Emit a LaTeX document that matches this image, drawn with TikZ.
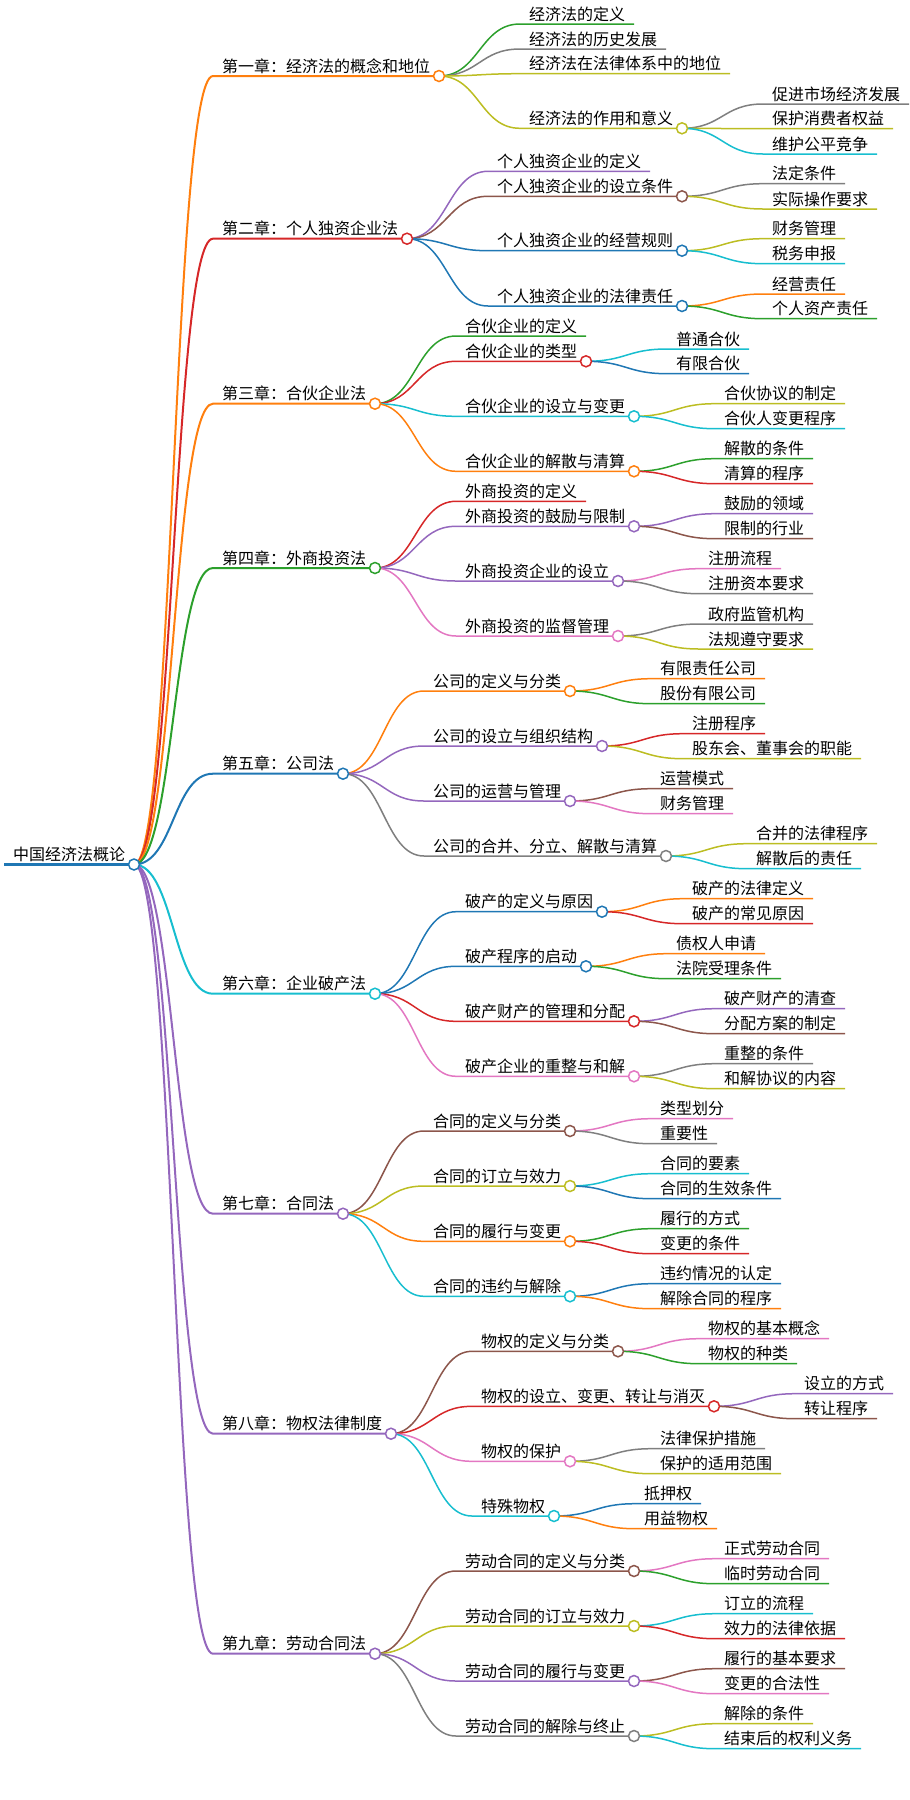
\documentclass[tikz,border=0pt]{standalone}
\usepackage{fontspec}
\setmainfont{Noto Sans CJK SC}
\usepackage{tikz}

\definecolor{mmblue}{HTML}{1F77B4}
\definecolor{mmorange}{HTML}{FF7F0E}
\definecolor{mmgreen}{HTML}{2CA02C}
\definecolor{mmred}{HTML}{D62728}
\definecolor{mmpurple}{HTML}{9467BD}
\definecolor{mmbrown}{HTML}{8C564B}
\definecolor{mmpink}{HTML}{E377C2}
\definecolor{mmgray}{HTML}{7F7F7F}
\definecolor{mmolive}{HTML}{BCBD22}
\definecolor{mmcyan}{HTML}{17BECF}

\begin{document}
\begin{tikzpicture}[x=1pt, y=-1pt,
    topic/.style={anchor=south west, inner xsep=9pt, inner ysep=4pt, outer sep=0pt,
      text height=13pt, text depth=0pt, font=\fontsize{16}{19}\selectfont},
    knot/.style={circle, fill=white, line width=1.5pt, minimum size=11pt, inner sep=0pt},
    chap/.style={line width=2pt},
    sub/.style={line width=1.5pt}]
      \useasboundingbox (0,0) rectangle (910,1800);
      % Root:
      \node[topic] (root) at (4, 864.5) {中国经济法概论};
      \draw[mmblue, line width=3.5pt] (root.south west) -- (root.south east);
      % Chapters:
      \node[topic] (ch1) at (213, 76) {第一章：经济法的概念和地位};
      \node[topic] (ch2) at (213, 238.7) {第二章：个人独资企业法};
      \node[topic] (ch3) at (213, 403.7) {第三章：合伙企业法};
      \node[topic] (ch4) at (213, 568) {第四章：外商投资法};
      \node[topic] (ch5) at (213, 773.7) {第五章：公司法};
      \node[topic] (ch6) at (213, 993.7) {第六章：企业破产法};
      \node[topic] (ch7) at (213, 1213.7) {第七章：合同法};
      \node[topic] (ch8) at (213, 1433.7) {第八章：物权法律制度};
      \node[topic] (ch9) at (213, 1653.7) {第九章：劳动合同法};
      \draw[mmorange, chap] (root.south east) .. controls +(40,0) and +(-40,0) .. (ch1.south west) -- (ch1.south east);
      \draw[mmred, chap] (root.south east) .. controls +(40,0) and +(-40,0) .. (ch2.south west) -- (ch2.south east);
      \draw[mmorange, chap] (root.south east) .. controls +(40,0) and +(-40,0) .. (ch3.south west) -- (ch3.south east);
      \draw[mmgreen, chap] (root.south east) .. controls +(40,0) and +(-40,0) .. (ch4.south west) -- (ch4.south east);
      \draw[mmblue, chap] (root.south east) .. controls +(40,0) and +(-40,0) .. (ch5.south west) -- (ch5.south east);
      \draw[mmcyan, chap] (root.south east) .. controls +(40,0) and +(-40,0) .. (ch6.south west) -- (ch6.south east);
      \draw[mmpurple, chap] (root.south east) .. controls +(40,0) and +(-40,0) .. (ch7.south west) -- (ch7.south east);
      \draw[mmpurple, chap] (root.south east) .. controls +(40,0) and +(-40,0) .. (ch8.south west) -- (ch8.south east);
      \draw[mmpurple, chap] (root.south east) .. controls +(40,0) and +(-40,0) .. (ch9.south west) -- (ch9.south east);

      % Chapter 1:
      \node[topic] (c11) at (520, 24) {经济法的定义};
      \node[topic] (c12) at (520, 49) {经济法的历史发展};
      \node[topic] (c13) at (520, 73.7) {经济法在法律体系中的地位};
      \node[topic] (c14) at (520, 128.3) {经济法的作用和意义};
      \node[topic] (c141) at (763, 104) {促进市场经济发展};
      \node[topic] (c142) at (763, 128.7) {保护消费者权益};
      \node[topic] (c143) at (763, 154) {维护公平竞争};
      \draw[mmgreen, sub] (ch1.south east) .. controls +(40,0) and +(-40,0) .. (c11.south west) -- (c11.south east);
      \draw[mmgray, sub] (ch1.south east) .. controls +(40,0) and +(-40,0) .. (c12.south west) -- (c12.south east);
      \draw[mmolive, sub] (ch1.south east) .. controls +(40,0) and +(-40,0) .. (c13.south west) -- (c13.south east);
      \draw[mmolive, sub] (ch1.south east) .. controls +(40,0) and +(-40,0) .. (c14.south west) -- (c14.south east);
      \draw[mmgray, sub] (c14.south east) .. controls +(40,0) and +(-40,0) .. (c141.south west) -- (c141.south east);
      \draw[mmolive, sub] (c14.south east) .. controls +(40,0) and +(-40,0) .. (c142.south west) -- (c142.south east);
      \draw[mmcyan, sub] (c14.south east) .. controls +(40,0) and +(-40,0) .. (c143.south west) -- (c143.south east);

      % Chapter 2:
      \node[topic] (c21) at (488, 171.3) {个人独资企业的定义};
      \node[topic] (c22) at (488, 196.3) {个人独资企业的设立条件};
      \node[topic] (c23) at (488, 250.7) {个人独资企业的经营规则};
      \node[topic] (c24) at (488, 306) {个人独资企业的法律责任};
      \node[topic] (c221) at (763, 183.7) {法定条件};
      \node[topic] (c222) at (763, 209) {实际操作要求};
      \node[topic] (c231) at (763, 238.7) {财务管理};
      \node[topic] (c232) at (763, 263.7) {税务申报};
      \node[topic] (c241) at (763, 294) {经营责任};
      \node[topic] (c242) at (763, 318.7) {个人资产责任};
      \draw[mmpurple, sub] (ch2.south east) .. controls +(40,0) and +(-40,0) .. (c21.south west) -- (c21.south east);
      \draw[mmbrown, sub] (ch2.south east) .. controls +(40,0) and +(-40,0) .. (c22.south west) -- (c22.south east);
      \draw[mmblue, sub] (ch2.south east) .. controls +(40,0) and +(-40,0) .. (c23.south west) -- (c23.south east);
      \draw[mmblue, sub] (ch2.south east) .. controls +(40,0) and +(-40,0) .. (c24.south west) -- (c24.south east);
      \draw[mmgray, sub] (c22.south east) .. controls +(40,0) and +(-40,0) .. (c221.south west) -- (c221.south east);
      \draw[mmolive, sub] (c22.south east) .. controls +(40,0) and +(-40,0) .. (c222.south west) -- (c222.south east);
      \draw[mmolive, sub] (c23.south east) .. controls +(40,0) and +(-40,0) .. (c231.south west) -- (c231.south east);
      \draw[mmcyan, sub] (c23.south east) .. controls +(40,0) and +(-40,0) .. (c232.south west) -- (c232.south east);
      \draw[mmorange, sub] (c24.south east) .. controls +(40,0) and +(-40,0) .. (c241.south west) -- (c241.south east);
      \draw[mmgreen, sub] (c24.south east) .. controls +(40,0) and +(-40,0) .. (c242.south west) -- (c242.south east);

      % Chapter 3:
      \node[topic] (c31) at (456, 336) {合伙企业的定义};
      \node[topic] (c32) at (456, 361.3) {合伙企业的类型};
      \node[topic] (c33) at (456, 416.3) {合伙企业的设立与变更};
      \node[topic] (c34) at (456, 471.3) {合伙企业的解散与清算};
      \node[topic] (c321) at (667, 349) {普通合伙};
      \node[topic] (c322) at (667, 373.7) {有限合伙};
      \node[topic] (c331) at (715, 403.7) {合伙协议的制定};
      \node[topic] (c332) at (715, 428.7) {合伙人变更程序};
      \node[topic] (c341) at (715, 458.7) {解散的条件};
      \node[topic] (c342) at (715, 483.7) {清算的程序};
      \draw[mmgreen, sub] (ch3.south east) .. controls +(40,0) and +(-40,0) .. (c31.south west) -- (c31.south east);
      \draw[mmred, sub] (ch3.south east) .. controls +(40,0) and +(-40,0) .. (c32.south west) -- (c32.south east);
      \draw[mmcyan, sub] (ch3.south east) .. controls +(40,0) and +(-40,0) .. (c33.south west) -- (c33.south east);
      \draw[mmorange, sub] (ch3.south east) .. controls +(40,0) and +(-40,0) .. (c34.south west) -- (c34.south east);
      \draw[mmcyan, sub] (c32.south east) .. controls +(40,0) and +(-40,0) .. (c321.south west) -- (c321.south east);
      \draw[mmblue, sub] (c32.south east) .. controls +(40,0) and +(-40,0) .. (c322.south west) -- (c322.south east);
      \draw[mmolive, sub] (c33.south east) .. controls +(40,0) and +(-40,0) .. (c331.south west) -- (c331.south east);
      \draw[mmcyan, sub] (c33.south east) .. controls +(40,0) and +(-40,0) .. (c332.south west) -- (c332.south east);
      \draw[mmgreen, sub] (c34.south east) .. controls +(40,0) and +(-40,0) .. (c341.south west) -- (c341.south east);
      \draw[mmred, sub] (c34.south east) .. controls +(40,0) and +(-40,0) .. (c342.south west) -- (c342.south east);

      % Chapter 4:
      \node[topic] (c41) at (456, 501.3) {外商投资的定义};
      \node[topic] (c42) at (456, 526.3) {外商投资的鼓励与限制};
      \node[topic] (c43) at (456, 581) {外商投资企业的设立};
      \node[topic] (c44) at (456, 636) {外商投资的监督管理};
      \node[topic] (c421) at (715, 513.7) {鼓励的领域};
      \node[topic] (c422) at (715, 538.7) {限制的行业};
      \node[topic] (c431) at (699, 568.7) {注册流程};
      \node[topic] (c432) at (699, 593.7) {注册资本要求};
      \node[topic] (c441) at (699, 624) {政府监管机构};
      \node[topic] (c442) at (699, 649) {法规遵守要求};
      \draw[mmred, sub] (ch4.south east) .. controls +(40,0) and +(-40,0) .. (c41.south west) -- (c41.south east);
      \draw[mmpurple, sub] (ch4.south east) .. controls +(40,0) and +(-40,0) .. (c42.south west) -- (c42.south east);
      \draw[mmpurple, sub] (ch4.south east) .. controls +(40,0) and +(-40,0) .. (c43.south west) -- (c43.south east);
      \draw[mmpink, sub] (ch4.south east) .. controls +(40,0) and +(-40,0) .. (c44.south west) -- (c44.south east);
      \draw[mmpurple, sub] (c42.south east) .. controls +(40,0) and +(-40,0) .. (c421.south west) -- (c421.south east);
      \draw[mmbrown, sub] (c42.south east) .. controls +(40,0) and +(-40,0) .. (c422.south west) -- (c422.south east);
      \draw[mmpink, sub] (c43.south east) .. controls +(40,0) and +(-40,0) .. (c431.south west) -- (c431.south east);
      \draw[mmgray, sub] (c43.south east) .. controls +(40,0) and +(-40,0) .. (c432.south west) -- (c432.south east);
      \draw[mmgray, sub] (c44.south east) .. controls +(40,0) and +(-40,0) .. (c441.south west) -- (c441.south east);
      \draw[mmolive, sub] (c44.south east) .. controls +(40,0) and +(-40,0) .. (c442.south west) -- (c442.south east);

      % Chapter 5:
      \node[topic] (c51) at (424, 691) {公司的定义与分类};
      \node[topic] (c52) at (424, 746) {公司的设立与组织结构};
      \node[topic] (c53) at (424, 801) {公司的运营与管理};
      \node[topic] (c54) at (424, 856) {公司的合并、分立、解散与清算};
      \node[topic] (c511) at (651, 678.7) {有限责任公司};
      \node[topic] (c512) at (651, 703.7) {股份有限公司};
      \node[topic] (c521) at (683, 733.7) {注册程序};
      \node[topic] (c522) at (683, 758.7) {股东会、董事会的职能};
      \node[topic] (c531) at (651, 788.7) {运营模式};
      \node[topic] (c532) at (651, 813.7) {财务管理};
      \node[topic] (c541) at (747, 843.7) {合并的法律程序};
      \node[topic] (c542) at (747, 868.7) {解散后的责任};
      \draw[mmorange, sub] (ch5.south east) .. controls +(40,0) and +(-40,0) .. (c51.south west) -- (c51.south east);
      \draw[mmpurple, sub] (ch5.south east) .. controls +(40,0) and +(-40,0) .. (c52.south west) -- (c52.south east);
      \draw[mmpurple, sub] (ch5.south east) .. controls +(40,0) and +(-40,0) .. (c53.south west) -- (c53.south east);
      \draw[mmgray, sub] (ch5.south east) .. controls +(40,0) and +(-40,0) .. (c54.south west) -- (c54.south east);
      \draw[mmorange, sub] (c51.south east) .. controls +(40,0) and +(-40,0) .. (c511.south west) -- (c511.south east);
      \draw[mmgreen, sub] (c51.south east) .. controls +(40,0) and +(-40,0) .. (c512.south west) -- (c512.south east);
      \draw[mmred, sub] (c52.south east) .. controls +(40,0) and +(-40,0) .. (c521.south west) -- (c521.south east);
      \draw[mmolive, sub] (c52.south east) .. controls +(40,0) and +(-40,0) .. (c522.south west) -- (c522.south east);
      \draw[mmbrown, sub] (c53.south east) .. controls +(40,0) and +(-40,0) .. (c531.south west) -- (c531.south east);
      \draw[mmpink, sub] (c53.south east) .. controls +(40,0) and +(-40,0) .. (c532.south west) -- (c532.south east);
      \draw[mmolive, sub] (c54.south east) .. controls +(40,0) and +(-40,0) .. (c541.south west) -- (c541.south east);
      \draw[mmcyan, sub] (c54.south east) .. controls +(40,0) and +(-40,0) .. (c542.south west) -- (c542.south east);

      % Chapter 6:
      \node[topic] (c61) at (456, 911.7) {破产的定义与原因};
      \node[topic] (c62) at (456, 966.3) {破产程序的启动};
      \node[topic] (c63) at (456, 1021.3) {破产财产的管理和分配};
      \node[topic] (c64) at (456, 1076.3) {破产企业的重整与和解};
      \node[topic] (c611) at (683, 898.7) {破产的法律定义};
      \node[topic] (c612) at (683, 923.7) {破产的常见原因};
      \node[topic] (c621) at (667, 953.7) {债权人申请};
      \node[topic] (c622) at (667, 978.7) {法院受理条件};
      \node[topic] (c631) at (715, 1008.7) {破产财产的清查};
      \node[topic] (c632) at (715, 1033.7) {分配方案的制定};
      \node[topic] (c641) at (715, 1063.7) {重整的条件};
      \node[topic] (c642) at (715, 1088.7) {和解协议的内容};
      \draw[mmblue, sub] (ch6.south east) .. controls +(40,0) and +(-40,0) .. (c61.south west) -- (c61.south east);
      \draw[mmblue, sub] (ch6.south east) .. controls +(40,0) and +(-40,0) .. (c62.south west) -- (c62.south east);
      \draw[mmred, sub] (ch6.south east) .. controls +(40,0) and +(-40,0) .. (c63.south west) -- (c63.south east);
      \draw[mmpink, sub] (ch6.south east) .. controls +(40,0) and +(-40,0) .. (c64.south west) -- (c64.south east);
      \draw[mmorange, sub] (c61.south east) .. controls +(40,0) and +(-40,0) .. (c611.south west) -- (c611.south east);
      \draw[mmred, sub] (c61.south east) .. controls +(40,0) and +(-40,0) .. (c612.south west) -- (c612.south east);
      \draw[mmorange, sub] (c62.south east) .. controls +(40,0) and +(-40,0) .. (c621.south west) -- (c621.south east);
      \draw[mmgreen, sub] (c62.south east) .. controls +(40,0) and +(-40,0) .. (c622.south west) -- (c622.south east);
      \draw[mmpurple, sub] (c63.south east) .. controls +(40,0) and +(-40,0) .. (c631.south west) -- (c631.south east);
      \draw[mmbrown, sub] (c63.south east) .. controls +(40,0) and +(-40,0) .. (c632.south west) -- (c632.south east);
      \draw[mmgray, sub] (c64.south east) .. controls +(40,0) and +(-40,0) .. (c641.south west) -- (c641.south east);
      \draw[mmolive, sub] (c64.south east) .. controls +(40,0) and +(-40,0) .. (c642.south west) -- (c642.south east);

      % Chapter 7:
      \node[topic] (c71) at (424, 1131) {合同的定义与分类};
      \node[topic] (c72) at (424, 1186) {合同的订立与效力};
      \node[topic] (c73) at (424, 1241.3) {合同的履行与变更};
      \node[topic] (c74) at (424, 1296.3) {合同的违约与解除};
      \node[topic] (c711) at (651, 1118.7) {类型划分};
      \node[topic] (c712) at (651, 1143.7) {重要性};
      \node[topic] (c721) at (651, 1173.7) {合同的要素};
      \node[topic] (c722) at (651, 1198.7) {合同的生效条件};
      \node[topic] (c731) at (651, 1228.7) {履行的方式};
      \node[topic] (c732) at (651, 1253.7) {变更的条件};
      \node[topic] (c741) at (651, 1283.7) {违约情况的认定};
      \node[topic] (c742) at (651, 1308.7) {解除合同的程序};
      \draw[mmbrown, sub] (ch7.south east) .. controls +(40,0) and +(-40,0) .. (c71.south west) -- (c71.south east);
      \draw[mmolive, sub] (ch7.south east) .. controls +(40,0) and +(-40,0) .. (c72.south west) -- (c72.south east);
      \draw[mmorange, sub] (ch7.south east) .. controls +(40,0) and +(-40,0) .. (c73.south west) -- (c73.south east);
      \draw[mmcyan, sub] (ch7.south east) .. controls +(40,0) and +(-40,0) .. (c74.south west) -- (c74.south east);
      \draw[mmpink, sub] (c71.south east) .. controls +(40,0) and +(-40,0) .. (c711.south west) -- (c711.south east);
      \draw[mmgray, sub] (c71.south east) .. controls +(40,0) and +(-40,0) .. (c712.south west) -- (c712.south east);
      \draw[mmcyan, sub] (c72.south east) .. controls +(40,0) and +(-40,0) .. (c721.south west) -- (c721.south east);
      \draw[mmblue, sub] (c72.south east) .. controls +(40,0) and +(-40,0) .. (c722.south west) -- (c722.south east);
      \draw[mmgreen, sub] (c73.south east) .. controls +(40,0) and +(-40,0) .. (c731.south west) -- (c731.south east);
      \draw[mmred, sub] (c73.south east) .. controls +(40,0) and +(-40,0) .. (c732.south west) -- (c732.south east);
      \draw[mmblue, sub] (c74.south east) .. controls +(40,0) and +(-40,0) .. (c741.south west) -- (c741.south east);
      \draw[mmorange, sub] (c74.south east) .. controls +(40,0) and +(-40,0) .. (c742.south west) -- (c742.south east);

      % Chapter 8:
      \node[topic] (c81) at (472, 1351.3) {物权的定义与分类};
      \node[topic] (c82) at (472, 1406.3) {物权的设立、变更、转让与消灭};
      \node[topic] (c83) at (472, 1461.3) {物权的保护};
      \node[topic] (c84) at (472, 1516) {特殊物权};
      \node[topic] (c811) at (699, 1338.7) {物权的基本概念};
      \node[topic] (c812) at (699, 1363.7) {物权的种类};
      \node[topic] (c821) at (795, 1393.7) {设立的方式};
      \node[topic] (c822) at (795, 1418.7) {转让程序};
      \node[topic] (c831) at (651, 1448.7) {法律保护措施};
      \node[topic] (c832) at (651, 1473.7) {保护的适用范围};
      \node[topic] (c841) at (635, 1503.7) {抵押权};
      \node[topic] (c842) at (635, 1528.7) {用益物权};
      \draw[mmbrown, sub] (ch8.south east) .. controls +(40,0) and +(-40,0) .. (c81.south west) -- (c81.south east);
      \draw[mmred, sub] (ch8.south east) .. controls +(40,0) and +(-40,0) .. (c82.south west) -- (c82.south east);
      \draw[mmpink, sub] (ch8.south east) .. controls +(40,0) and +(-40,0) .. (c83.south west) -- (c83.south east);
      \draw[mmcyan, sub] (ch8.south east) .. controls +(40,0) and +(-40,0) .. (c84.south west) -- (c84.south east);
      \draw[mmpink, sub] (c81.south east) .. controls +(40,0) and +(-40,0) .. (c811.south west) -- (c811.south east);
      \draw[mmgreen, sub] (c81.south east) .. controls +(40,0) and +(-40,0) .. (c812.south west) -- (c812.south east);
      \draw[mmpurple, sub] (c82.south east) .. controls +(40,0) and +(-40,0) .. (c821.south west) -- (c821.south east);
      \draw[mmbrown, sub] (c82.south east) .. controls +(40,0) and +(-40,0) .. (c822.south west) -- (c822.south east);
      \draw[mmgray, sub] (c83.south east) .. controls +(40,0) and +(-40,0) .. (c831.south west) -- (c831.south east);
      \draw[mmolive, sub] (c83.south east) .. controls +(40,0) and +(-40,0) .. (c832.south west) -- (c832.south east);
      \draw[mmblue, sub] (c84.south east) .. controls +(40,0) and +(-40,0) .. (c841.south west) -- (c841.south east);
      \draw[mmorange, sub] (c84.south east) .. controls +(40,0) and +(-40,0) .. (c842.south west) -- (c842.south east);

      % Chapter 9:
      \node[topic] (c91) at (456, 1571) {劳动合同的定义与分类};
      \node[topic] (c92) at (456, 1626) {劳动合同的订立与效力};
      \node[topic] (c93) at (456, 1681) {劳动合同的履行与变更};
      \node[topic] (c94) at (456, 1736) {劳动合同的解除与终止};
      \node[topic] (c911) at (715, 1558.7) {正式劳动合同};
      \node[topic] (c912) at (715, 1583.7) {临时劳动合同};
      \node[topic] (c921) at (715, 1613.7) {订立的流程};
      \node[topic] (c922) at (715, 1638.7) {效力的法律依据};
      \node[topic] (c931) at (715, 1668.7) {履行的基本要求};
      \node[topic] (c932) at (715, 1693.7) {变更的合法性};
      \node[topic] (c941) at (715, 1723.7) {解除的条件};
      \node[topic] (c942) at (715, 1748.7) {结束后的权利义务};
      \draw[mmbrown, sub] (ch9.south east) .. controls +(40,0) and +(-40,0) .. (c91.south west) -- (c91.south east);
      \draw[mmolive, sub] (ch9.south east) .. controls +(40,0) and +(-40,0) .. (c92.south west) -- (c92.south east);
      \draw[mmpurple, sub] (ch9.south east) .. controls +(40,0) and +(-40,0) .. (c93.south west) -- (c93.south east);
      \draw[mmgray, sub] (ch9.south east) .. controls +(40,0) and +(-40,0) .. (c94.south west) -- (c94.south east);
      \draw[mmpink, sub] (c91.south east) .. controls +(40,0) and +(-40,0) .. (c911.south west) -- (c911.south east);
      \draw[mmgreen, sub] (c91.south east) .. controls +(40,0) and +(-40,0) .. (c912.south west) -- (c912.south east);
      \draw[mmcyan, sub] (c92.south east) .. controls +(40,0) and +(-40,0) .. (c921.south west) -- (c921.south east);
      \draw[mmred, sub] (c92.south east) .. controls +(40,0) and +(-40,0) .. (c922.south west) -- (c922.south east);
      \draw[mmbrown, sub] (c93.south east) .. controls +(40,0) and +(-40,0) .. (c931.south west) -- (c931.south east);
      \draw[mmpink, sub] (c93.south east) .. controls +(40,0) and +(-40,0) .. (c932.south west) -- (c932.south east);
      \draw[mmolive, sub] (c94.south east) .. controls +(40,0) and +(-40,0) .. (c941.south west) -- (c941.south east);
      \draw[mmcyan, sub] (c94.south east) .. controls +(40,0) and +(-40,0) .. (c942.south west) -- (c942.south east);

      % Knots on top of the wires:
      \foreach \n/\c in {root/mmblue, ch1/mmorange, ch2/mmred, ch3/mmorange, ch4/mmgreen,
          ch5/mmblue, ch6/mmcyan, ch7/mmpurple, ch8/mmpurple, ch9/mmpurple,
          c14/mmolive, c22/mmbrown, c23/mmblue, c24/mmblue,
          c32/mmred, c33/mmcyan, c34/mmorange,
          c42/mmpurple, c43/mmpurple, c44/mmpink,
          c51/mmorange, c52/mmpurple, c53/mmpurple, c54/mmgray,
          c61/mmblue, c62/mmblue, c63/mmred, c64/mmpink,
          c71/mmbrown, c72/mmolive, c73/mmorange, c74/mmcyan,
          c81/mmbrown, c82/mmred, c83/mmpink, c84/mmcyan,
          c91/mmbrown, c92/mmolive, c93/mmpurple, c94/mmgray}
        \node[knot, draw=\c] (\n-k) at (\n.south east) {};
    \end{tikzpicture}
\end{document}
